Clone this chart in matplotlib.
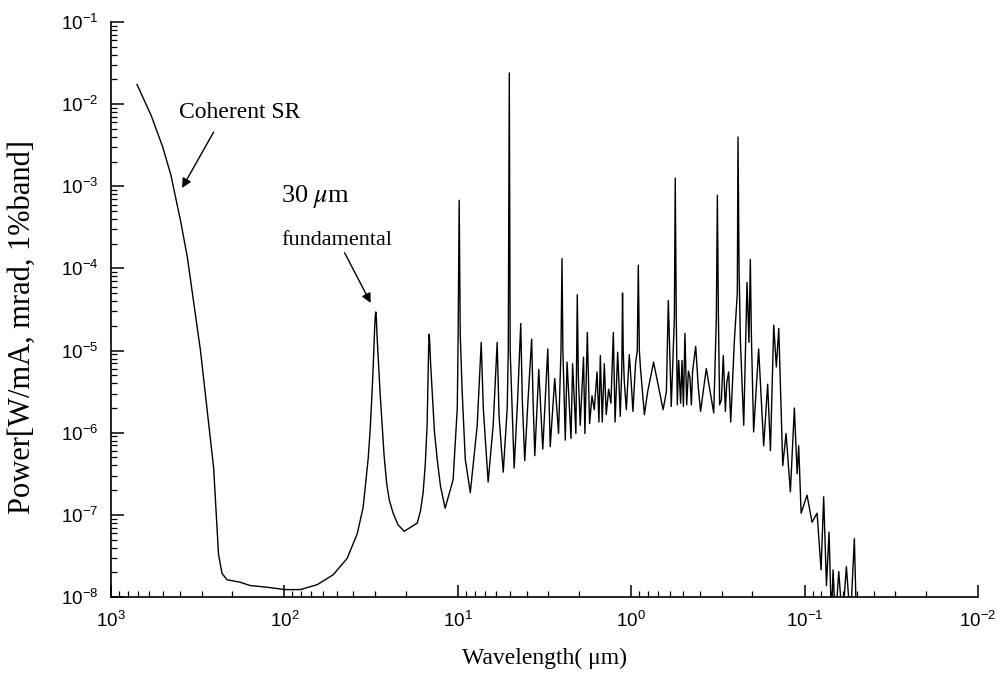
import numpy as np
import matplotlib
matplotlib.use("Agg")
import matplotlib.pyplot as plt
from matplotlib.ticker import LogLocator, FixedLocator, NullFormatter

plt.rcParams['font.family'] = ['Liberation Sans', 'DejaVu Sans']
plt.rcParams['mathtext.fontset'] = 'stix'

# spectrum: log10(wavelength in um), log10(power)
log_wl = [2.850, 2.768, 2.702, 2.655, 2.598, 2.560, 2.522, 2.484, 2.446, 2.408,
          2.389, 2.380, 2.360, 2.332, 2.256, 2.198, 2.104, 1.996, 1.909, 1.811,
          1.719, 1.638, 1.580, 1.546, 1.517, 1.505, 1.494, 1.487, 1.480, 1.476,
          1.473, 1.470, 1.465, 1.459, 1.448, 1.436, 1.425, 1.410, 1.395, 1.373,
          1.345, 1.309, 1.234, 1.215, 1.200, 1.188, 1.177, 1.171, 1.168, 1.165,
          1.162, 1.157, 1.148, 1.135, 1.119, 1.100, 1.073,
          1.027, 1.003, 0.998, 0.992, 0.986, 0.975, 0.957, 0.928, 0.888, 0.865,
          0.853, 0.825, 0.796, 0.773, 0.762, 0.738, 0.715, 0.709, 0.703, 0.698,
          0.675, 0.655, 0.637, 0.628, 0.614, 0.595, 0.574, 0.566, 0.556, 0.533,
          0.510, 0.481, 0.467, 0.441, 0.419, 0.405, 0.399, 0.394, 0.380, 0.370,
          0.347, 0.338, 0.319, 0.315, 0.311, 0.305, 0.294, 0.275, 0.267, 0.253,
          0.240, 0.226, 0.213, 0.197, 0.186, 0.178, 0.167, 0.155, 0.144, 0.130,
          0.117, 0.103, 0.093, 0.078, 0.063, 0.054, 0.050, 0.046, 0.040, 0.028,
          0.011, -0.001, -0.010, -0.025, -0.035, -0.041, -0.047, -0.053, -0.076, -0.095,
          -0.129, -0.184, -0.203, -0.214, -0.231, -0.249, -0.254, -0.260, -0.266, -0.274,
          -0.285, -0.293, -0.301, -0.310, -0.320, -0.330, -0.339, -0.347, -0.354, -0.372,
          -0.387, -0.400, -0.433, -0.476, -0.491, -0.497, -0.503, -0.510, -0.520, -0.531,
          -0.543, -0.551, -0.562, -0.574, -0.595, -0.612, -0.616, -0.622, -0.630, -0.649,
          -0.668, -0.679, -0.687, -0.693, -0.706, -0.735, -0.764, -0.787, -0.803, -0.822,
          -0.837, -0.851, -0.874, -0.893, -0.918, -0.941, -0.957, -0.966, -0.980, -1.014,
          -1.043, -1.072, -1.095, -1.110, -1.126, -1.141, -1.155, -1.164, -1.178, -1.197,
          -1.218, -1.241, -1.264, -1.287, -1.299]
log_pw = [-1.76, -2.14, -2.52, -2.86, -3.43, -3.86, -4.43, -5.00, -5.71, -6.43,
          -7.14, -7.48, -7.71, -7.79, -7.82, -7.86, -7.88, -7.91, -7.91, -7.85,
          -7.73, -7.53, -7.23, -6.91, -6.32, -5.95, -5.49, -5.15, -4.75, -4.58,
          -4.53, -4.60, -4.85, -5.08, -5.52, -5.91, -6.28, -6.62, -6.82, -6.98,
          -7.12, -7.20, -7.10, -6.95, -6.73, -6.40, -5.91, -5.30, -4.95, -4.80,
          -4.90, -5.15, -5.49, -5.98, -6.32, -6.65, -6.92,
          -6.57, -5.70, -4.80, -3.17, -4.80, -5.49, -6.32, -6.73, -5.91, -4.90,
          -5.70, -6.60, -5.91, -4.90, -5.80, -6.48, -5.70, -5.00, -1.62, -5.00,
          -6.43, -5.60, -4.67, -5.60, -6.34, -5.60, -4.86, -5.60, -6.28, -5.23,
          -6.20, -4.98, -6.17, -5.34, -6.01, -5.00, -3.88, -5.00, -6.09, -5.14,
          -6.07, -5.16, -6.01, -5.20, -4.32, -5.30, -5.91, -5.08, -6.01, -4.78,
          -5.89, -5.55, -5.72, -5.26, -5.87, -5.06, -5.87, -5.16, -5.78, -5.47,
          -5.64, -4.78, -5.87, -5.02, -5.80, -5.20, -4.30, -5.00, -5.37, -5.72,
          -5.05, -5.42, -5.74, -5.16, -5.00, -3.96, -5.00, -5.20, -5.78, -5.50,
          -5.14, -5.72, -5.50, -4.39, -5.68, -4.60, -2.90, -4.60, -5.66, -5.12,
          -5.64, -5.12, -5.68, -4.79, -5.66, -5.25, -5.33, -5.66, -5.25, -4.95,
          -5.45, -5.74, -5.22, -5.76, -4.60, -3.11, -4.60, -5.66, -5.60, -5.06,
          -5.74, -5.40, -5.26, -5.87, -4.88, -4.30, -2.40, -4.00, -4.90, -5.91,
          -4.17, -4.90, -3.89, -4.80, -5.99, -4.98, -6.16, -5.41, -6.22, -4.69,
          -5.20, -4.73, -6.40, -6.01, -6.72, -5.70, -6.50, -6.16, -6.98, -6.76,
          -7.09, -6.98, -7.67, -6.78, -7.86, -7.21, -8.30, -7.67, -8.30, -7.69,
          -8.30, -7.63, -8.30, -7.29, -8.30]

x_decades = [3, 2, 1, 0, -1, -2]
y_decades = [-8, -7, -6, -5, -4, -3, -2, -1]

wavelength = 10 ** np.array(log_wl)
power = 10 ** np.array(log_pw)

serif = ['Liberation Serif', 'DejaVu Serif']

fig = plt.figure(figsize=(10.05, 6.78), dpi=100)
ax = fig.add_axes([111 / 1005, 1 - 597 / 678, (978 - 111) / 1005, (597 - 22) / 678])

ax.plot(wavelength, power, color='black', lw=1.0)

ax.set_xscale('log')
ax.set_yscale('log')
ax.set_xlim(1e3, 1e-2)
ax.set_ylim(1e-8, 1e-1)

ax.xaxis.set_major_locator(FixedLocator(10.0 ** np.array(x_decades)))
ax.yaxis.set_major_locator(FixedLocator(10.0 ** np.array(y_decades)))
ax.xaxis.set_minor_locator(LogLocator(base=10, subs=np.arange(2, 10), numticks=100))
ax.yaxis.set_minor_locator(LogLocator(base=10, subs=np.arange(2, 10), numticks=100))
ax.xaxis.set_minor_formatter(NullFormatter())
ax.yaxis.set_minor_formatter(NullFormatter())

ax.spines['top'].set_visible(False)
ax.spines['right'].set_visible(False)
ax.spines['left'].set_linewidth(1.2)
ax.spines['bottom'].set_linewidth(1.2)
ax.tick_params(which='both', direction='in', top=False, right=False, labelsize=13.5)
ax.tick_params(axis='x', which='major', pad=10)
ax.tick_params(axis='y', which='major', pad=9)
ax.tick_params(which='major', length=9, width=1.1)
ax.tick_params(which='minor', length=4, width=0.9)

ax.set_xlabel('Wavelength( μm)', family=serif, fontsize=17, labelpad=12)
ax.set_ylabel('Power[W/mA, mrad, 1%band]', family=serif, fontsize=22)
ax.yaxis.set_label_coords(-0.085, 0.47)

arrow = dict(arrowstyle='-|>', color='black', lw=1.0, mutation_scale=14)
ax.annotate('', xy=(10 ** 2.598, 10 ** -3.05), xytext=(10 ** 2.40, 10 ** -2.31),
            arrowprops=arrow)
ax.text(10 ** 2.607, 10 ** -2.10, 'Coherent SR', family=serif, fontsize=17,
        ha='left', va='center')

ax.annotate('', xy=(10 ** 1.495, 10 ** -4.45), xytext=(10 ** 1.660, 10 ** -3.78),
            arrowprops=arrow)
ax.text(10 ** 2.019, 10 ** -3.12, r'30 $\mu$m', family=serif, fontsize=19,
        ha='left', va='center')
ax.text(10 ** 2.019, 10 ** -3.66, 'fundamental', family=serif, fontsize=16,
        ha='left', va='center')

fig.savefig('out.png', dpi=100)
